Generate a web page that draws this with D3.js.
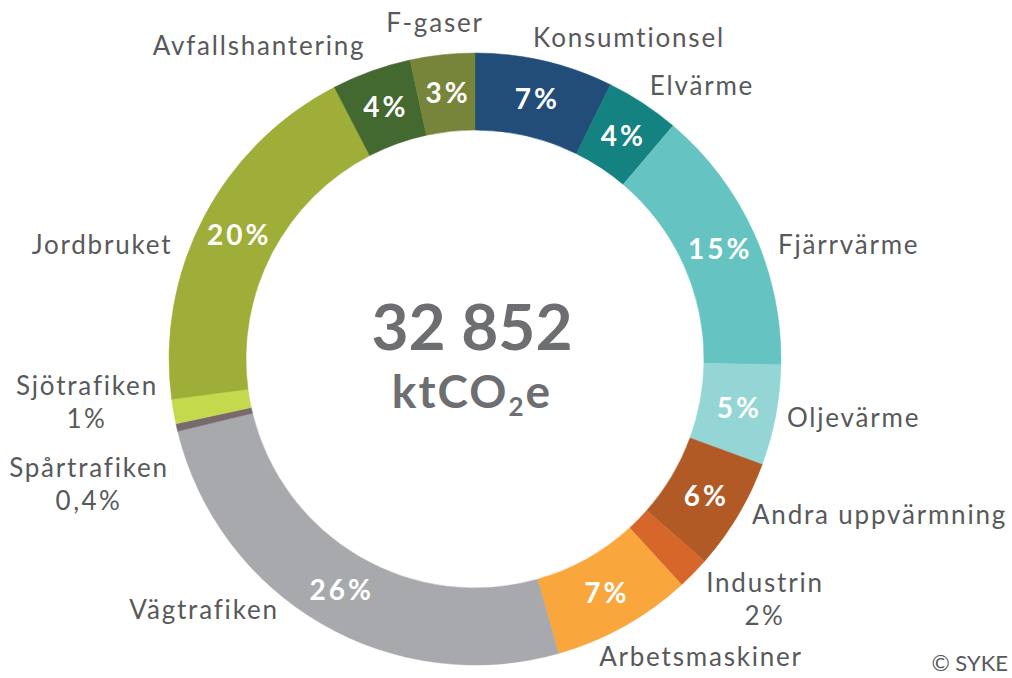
<!DOCTYPE html>
<meta charset="utf-8">
<script src="https://d3js.org/d3.v7.min.js"></script>
<style>
  body { margin: 0; background: #fff; }
  text { font-family: Lato, "Open Sans", sans-serif; }
  .lbl { fill: #58595b; font-size: 26px; letter-spacing: 1.8px; }
  .pct { fill: #fff; font-size: 28px; font-weight: bold; letter-spacing: 3px; }
</style>
<body>
<svg id="chart" width="1012" height="678"></svg>
<script>
  // sectors, clockwise from 12 o'clock
  var names = ["Konsumtionsel", "Elvärme", "Fjärrvärme", "Oljevärme", "Andra uppvärmning",
    "Industrin", "Arbetsmaskiner", "Vägtrafiken", "Spårtrafiken", "Sjötrafiken",
    "Jordbruket", "Avfallshantering", "F-gaser"];
  var shares = [7.3, 3.9, 14.1, 5.3, 5.9, 1.7, 7.4, 25.6, 0.4, 1.3, 19.5, 4.2, 3.4];
  var pctText = ["7%", "4%", "15%", "5%", "6%", "2%", "7%", "26%", "0,4%", "1%", "20%", "4%", "3%"];
  var colors = ["#214d78", "#138281", "#65c3c2", "#93d6d5", "#b15a26", "#d6662a", "#f9a63c",
    "#a8a9ac", "#78696e", "#c4d94c", "#9fae39", "#436830", "#76853a"];
  var total = "32 852";

  // small slices get their share printed under the name instead of in the ring
  var inRing = [true, true, true, true, true, false, true, true, false, false, true, true, true];
  // outside label anchors [x, y, anchor]
  var labelAt = [
    [629, 47, "middle"], [702, 95, "middle"], [778, 254, "start"], [787, 427, "start"],
    [752, 524, "start"], [765, 592, "middle"], [701, 666, "middle"], [204, 619, "middle"],
    [89, 477, "middle"], [87, 395, "middle"], [102, 254, "middle"], [259, 55, "middle"], [435, 32, "middle"]
  ];

  var svg = d3.select("#chart");
  var cx = 475, cy = 359, rOut = 306, rIn = 229;
  var g = svg.append("g").attr("transform", "translate(" + cx + "," + cy + ")");

  var pie = d3.pie().sort(null).value(function (d) { return d; });
  var arcs = pie(shares);
  var arc = d3.arc().innerRadius(rIn).outerRadius(rOut);

  g.selectAll("path")
    .data(arcs)
    .enter()
    .append("path")
    .attr("d", arc)
    .attr("fill", function (d, i) { return colors[i]; })
    .attr("stroke", function (d, i) { return colors[i]; })
    .attr("stroke-width", 0.5);

  // percentages inside the ring
  g.selectAll("text.pct")
    .data(arcs.filter(function (d, i) { return inRing[i]; }))
    .enter()
    .append("text")
    .attr("class", "pct")
    .attr("text-anchor", "middle")
    .attr("dy", "0.36em")
    .attr("transform", function (d) { var c = arc.centroid(d); return "translate(" + (c[0] + 1.5) + "," + c[1] + ")"; })
    .text(function (d) { return pctText[d.index]; });

  // names around the ring
  names.forEach(function (n, i) {
    var p = labelAt[i];
    svg.append("text").attr("class", "lbl")
      .attr("x", p[0]).attr("y", p[1]).attr("text-anchor", p[2]).text(n);
    if (!inRing[i]) {
      svg.append("text").attr("class", "lbl")
        .attr("x", p[0]).attr("y", p[1] + 33).attr("text-anchor", p[2])
        .style("letter-spacing", "2.5px").text(pctText[i]);
    }
  });

  // total in the middle
  svg.append("text")
    .attr("x", cx - 3).attr("y", 350)
    .attr("text-anchor", "middle")
    .style("font-size", "64px").style("font-weight", "bold").style("fill", "#6d6e71")
    .text(total);
  var unit = svg.append("text")
    .attr("x", cx - 3).attr("y", 408)
    .attr("text-anchor", "middle")
    .style("font-size", "46px").style("font-weight", "bold").style("fill", "#6d6e71")
    .style("letter-spacing", "2px");
  unit.append("tspan").text("ktCO");
  unit.append("tspan").attr("dy", 8).style("font-size", "26px").text("2");
  unit.append("tspan").attr("dy", -8).text("e");

  svg.append("text")
    .attr("x", 1008).attr("y", 671)
    .attr("text-anchor", "end")
    .style("font-size", "22px").style("fill", "#58595b")
    .text("© SYKE");
</script>
</body>
